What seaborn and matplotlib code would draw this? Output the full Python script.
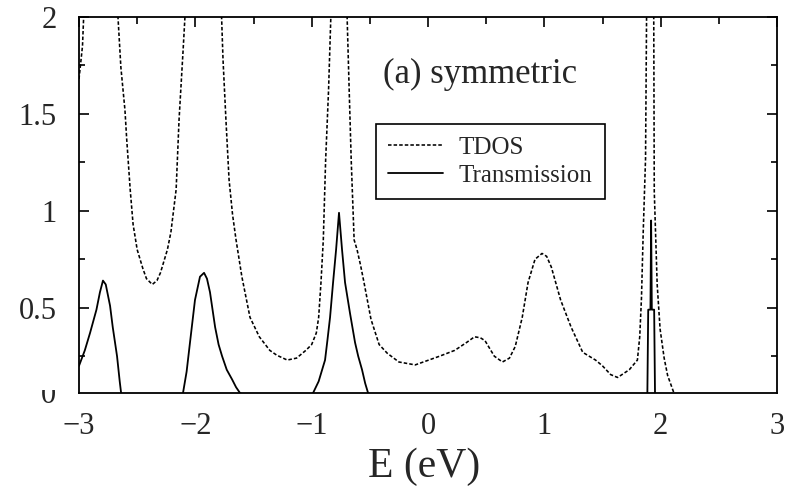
import matplotlib
matplotlib.use("Agg")
import matplotlib.pyplot as plt
from matplotlib.transforms import Bbox
import seaborn as sns
import pandas as pd

# Total density of states (energy in eV, arbitrary units); values above 2 run off the top
tdos_e = [-3.00, -2.97, -2.94, -2.80, -2.68, -2.665, -2.64, -2.605, -2.59, -2.56,
          -2.535, -2.50, -2.45, -2.42, -2.37, -2.33, -2.30, -2.24, -2.21, -2.165,
          -2.14, -2.105, -2.08, -1.93, -1.78, -1.762, -1.737, -1.71, -1.68, -1.65,
          -1.60, -1.53, -1.45, -1.36, -1.30, -1.21, -1.13, -1.05, -1.00, -0.96,
          -0.94, -0.92, -0.90, -0.88, -0.855, -0.83, -0.78, -0.70, -0.675, -0.66,
          -0.635, -0.61, -0.58, -0.55, -0.49, -0.42, -0.35, -0.25, -0.11, 0.10,
          0.23, 0.33, 0.40, 0.45, 0.49, 0.57, 0.64, 0.70, 0.75, 0.81,
          0.86, 0.92, 0.98, 1.02, 1.06, 1.14, 1.23, 1.33, 1.44, 1.50,
          1.57, 1.63, 1.73, 1.80, 1.82, 1.835, 1.85, 1.87, 1.88, 1.91,
          1.94, 1.945, 1.97, 1.995, 2.03, 2.06, 2.12, 2.20, 3.00]
tdos_v = [1.68, 1.85, 2.30, 4.00, 2.30, 2.00, 1.74, 1.52, 1.37, 1.11,
          0.93, 0.80, 0.70, 0.65, 0.62, 0.64, 0.68, 0.80, 0.89, 1.11,
          1.47, 1.83, 2.10, 4.00, 2.10, 1.78, 1.47, 1.16, 0.98, 0.85,
          0.66, 0.45, 0.35, 0.28, 0.255, 0.23, 0.24, 0.28, 0.31, 0.37,
          0.45, 0.63, 0.85, 1.26, 1.62, 2.10, 4.00, 2.10, 1.57, 1.26,
          0.85, 0.80, 0.72, 0.63, 0.44, 0.31, 0.265, 0.22, 0.205, 0.25,
          0.28, 0.32, 0.35, 0.345, 0.33, 0.25, 0.22, 0.24, 0.30, 0.45,
          0.63, 0.75, 0.78, 0.765, 0.71, 0.54, 0.40, 0.27, 0.23, 0.20,
          0.155, 0.14, 0.18, 0.23, 0.35, 0.55, 0.89, 1.27, 2.10, 5.00,
          2.10, 1.10, 0.62, 0.39, 0.24, 0.15, 0.05, 0.02, 0.00]

# Transmission coefficient
trans_e = [-3.00, -2.95, -2.905, -2.85, -2.82, -2.794, -2.77, -2.733, -2.71, -2.673,
           -2.65, -2.63, -2.50, -2.13, -2.106, -2.075, -2.046, -2.003, -1.96, -1.925,
           -1.90, -1.874, -1.83, -1.80, -1.77, -1.73, -1.684, -1.65, -1.616, -1.50,
           -1.10, -0.988, -0.94, -0.885, -0.865, -0.842, -0.816, -0.79, -0.765, -0.739,
           -0.713, -0.67, -0.627, -0.60, -0.567, -0.54, -0.515, -0.40, 1.87, 1.885,
           1.893, 1.912, 1.918, 1.924, 1.944, 1.952, 1.96, 3.00]
trans_v = [0.20, 0.28, 0.37, 0.49, 0.58, 0.64, 0.62, 0.51, 0.40, 0.25,
           0.12, 0.02, 0.00, 0.00, 0.06, 0.17, 0.32, 0.54, 0.66, 0.68,
           0.65, 0.58, 0.40, 0.31, 0.25, 0.18, 0.13, 0.09, 0.06, 0.02,
           0.00, 0.06, 0.12, 0.23, 0.33, 0.45, 0.63, 0.80, 0.99, 0.80,
           0.63, 0.47, 0.32, 0.25, 0.18, 0.11, 0.06, 0.01, 0.00, 0.02,
           0.49, 0.49, 0.95, 0.49, 0.49, 0.02, 0.00, 0.00]

x_ticks = [-3, -2, -1, 0, 1, 2, 3]
y_ticks = [0.5, 1, 1.5, 2]

sns.set_style("white")
plt.rcParams["font.family"] = ["Liberation Serif", "DejaVu Serif"]

fig = plt.figure(figsize=(7.87, 4.87), dpi=100)
ax = fig.add_axes([79 / 787, 94 / 487, 698 / 787, 376 / 487])

tdos = pd.DataFrame({"E": tdos_e, "v": tdos_v})
trans = pd.DataFrame({"E": trans_e, "v": trans_v})

sns.lineplot(data=tdos, x="E", y="v", ax=ax, color="black", lw=1.15,
             linestyle=(0, (2.2, 1.3)), label="TDOS", estimator=None, sort=False)
sns.lineplot(data=trans, x="E", y="v", ax=ax, color="black", lw=1.3,
             label="Transmission", estimator=None, sort=False)

ax.set_xlim(-3, 3)
ax.set_ylim(0.06, 2)
ax.set_xticks(x_ticks)
ax.set_xticklabels([f"{t:g}".replace("-", "\u2212") for t in x_ticks])
ax.set_xticks([-2.5, -1.5, -0.5, 0.5, 1.5, 2.5], minor=True)
ax.set_yticks(y_ticks)
ax.set_yticklabels([f"{t:g}" for t in y_ticks])
ax.set_yticks([0.25, 0.75, 1.25, 1.75], minor=True)

for s in ax.spines.values():
    s.set_visible(True)
    s.set_color("black")
    s.set_linewidth(1.3)

ax.tick_params(axis="x", which="both", direction="in", bottom=False, top=True,
               labelbottom=True, labelsize=22, pad=14, color="black", width=1.2)
ax.tick_params(axis="x", which="major", length=7.2)
ax.tick_params(axis="x", which="minor", length=5)
ax.tick_params(axis="y", which="both", direction="in", left=True, right=True,
               labelsize=22, pad=16, color="black", width=1.2)
ax.tick_params(axis="y", which="major", length=7.5)
ax.tick_params(axis="y", which="minor", length=4)

ax.set_xlabel("E (eV)", fontsize=30)
ax.xaxis.set_label_coords(0.494, -0.144)
ax.set_ylabel("")

# Zero label sits on the bottom edge, its upper half hidden
zero = fig.text(56 / 787, 1 - 403 / 487, "0", ha="right", va="baseline", fontsize=22)
zero.set_clip_box(Bbox.from_extents(0, 0, 787, 487 - 390))
zero.set_clip_on(True)

ax.text(0.4355, 0.846, "(a) symmetric", transform=ax.transAxes,
        fontsize=25, ha="left", va="center")

leg = ax.legend(loc="upper left", bbox_to_anchor=(0.4255, 0.7154), borderaxespad=0,
                fontsize=18, frameon=True, fancybox=False, framealpha=1,
                edgecolor="black", handlelength=2.2, handletextpad=0.6,
                borderpad=0.5, labelspacing=0.2)
leg.get_frame().set_linewidth(1.2)

fig.savefig("out.png", dpi=100)
